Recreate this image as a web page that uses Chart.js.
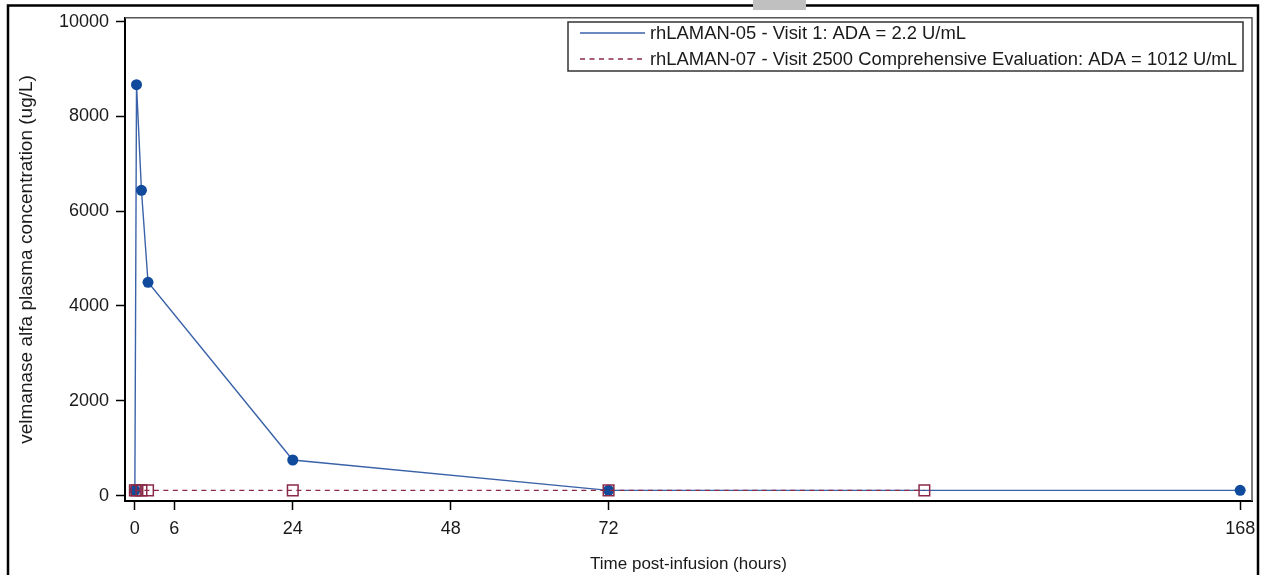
<!DOCTYPE html>
<html>
<head>
<meta charset="utf-8">
<script src="https://cdn.jsdelivr.net/npm/chart.js@4.4.1/dist/chart.umd.min.js"></script>
<style>
    html, body { margin: 0; padding: 0; background: #fff; }
    #wrap { position: relative; width: 1265px; height: 575px; }
</style>
</head>
<body>
<div id="wrap"><canvas id="grafico" width="1265" height="575"></canvas></div>
<script>
// rhLAMAN-05 - Visit 1
const horas05 = [0, 0.25, 1, 2, 24, 72, 168];
const conc05 = [110, 8670, 6440, 4500, 750, 110, 110];

// rhLAMAN-07 - Visit 2500
const horas07 = [0, 0.25, 1, 2, 24, 72, 120];
const conc07 = [110, 110, 110, 110, 110, 110, 110];

const ticksX = [0, 6, 24, 48, 72, 168];
const ticksY = [0, 2000, 4000, 6000, 8000, 10000];

const nomes = [
    'rhLAMAN-05 - Visit 1: ADA = 2.2 U/mL',
    'rhLAMAN-07 - Visit 2500 Comprehensive Evaluation: ADA = 1012 U/mL'
];

const azul = '#0f4a9c';
const azulLinha = '#3a62a8';
const vinho = '#8a2a48';
const fonte = '"Liberation Sans", Arial, sans-serif';

Chart.defaults.font.family = fonte;
Chart.defaults.color = '#1a1a1a';

// moldura externa, borda do gráfico e legenda
const moldura = {
    id: 'moldura',
    beforeDraw(chart) {
        const c = chart.ctx;
        c.save();
        c.strokeStyle = '#000';
        c.lineWidth = 2.5;
        c.beginPath();
        c.moveTo(8, 580);
        c.lineTo(8, 5.5);
        c.lineTo(1258, 5.5);
        c.lineTo(1258, 580);
        c.stroke();
        c.fillStyle = '#c0c0c0';
        c.fillRect(753, 0, 53, 10);
        c.restore();
    },
    afterDraw(chart) {
        const c = chart.ctx;
        const a = chart.chartArea;
        c.save();
        // topo e direita da área
        c.strokeStyle = '#555';
        c.lineWidth = 1.5;
        c.beginPath();
        c.moveTo(a.left, a.top);
        c.lineTo(a.right, a.top);
        c.lineTo(a.right, a.bottom);
        c.stroke();

        // legenda
        c.strokeStyle = '#333';
        c.lineWidth = 1.5;
        c.strokeRect(568, 22, 675, 49);
        c.lineWidth = 1.4;
        c.strokeStyle = azulLinha;
        c.beginPath();
        c.moveTo(580, 33);
        c.lineTo(645, 33);
        c.stroke();
        c.strokeStyle = vinho;
        c.setLineDash([5, 4.5]);
        c.beginPath();
        c.moveTo(580, 59);
        c.lineTo(645, 59);
        c.stroke();
        c.setLineDash([]);
        c.fillStyle = '#1a1a1a';
        c.font = '18.4px ' + fonte;
        c.textBaseline = 'middle';
        c.fillText(nomes[0], 650, 34);
        c.fillText(nomes[1], 650, 60);
        c.restore();
    }
};

const ctx = document.getElementById('grafico').getContext('2d');
const grafico = new Chart(ctx, {
    type: 'line',
    data: {
        datasets: [{
            label: nomes[0],
            data: horas05.map((h, i) => ({ x: h, y: conc05[i] })),
            borderColor: azulLinha,
            borderWidth: 1.4,
            pointStyle: 'circle',
            pointRadius: 5.5,
            pointBackgroundColor: azul,
            pointBorderColor: azul,
            pointBorderWidth: 0,
            order: 2
        }, {
            label: nomes[1],
            data: horas07.map((h, i) => ({ x: h, y: conc07[i] })),
            borderColor: vinho,
            borderWidth: 1.4,
            borderDash: [5, 4.5],
            pointStyle: 'rect',
            pointRadius: 7.5,
            pointBackgroundColor: 'rgba(0,0,0,0)',
            pointBorderColor: vinho,
            pointBorderWidth: 1.5,
            order: 1
        }]
    },
    options: {
        responsive: false,
        animation: false,
        devicePixelRatio: 1,
        layout: { padding: { left: 0, right: 13, top: 15, bottom: 0 } },
        plugins: {
            legend: { display: false },
            tooltip: { enabled: false }
        },
        scales: {
            x: {
                type: 'linear',
                min: -1.5,
                max: 169.8,
                afterBuildTicks: (s) => { s.ticks = ticksX.map(v => ({ value: v })); },
                afterFit: (s) => { s.height = 74; },
                grid: { drawOnChartArea: false, tickLength: 9, tickColor: '#000', tickWidth: 1.5 },
                border: { color: '#000', width: 2 },
                ticks: { font: { size: 18 }, padding: 8, maxRotation: 0, autoSkip: false, color: '#1a1a1a' },
                title: { display: true, text: 'Time post-infusion (hours)', font: { size: 17 }, padding: { top: 0, bottom: 0 }, color: '#1a1a1a' }
            },
            y: {
                min: -115,
                max: 10080,
                afterBuildTicks: (s) => { s.ticks = ticksY.map(v => ({ value: v })); },
                afterFit: (s) => { s.width = 125; },
                grid: { drawOnChartArea: false, tickLength: 9, tickColor: '#000', tickWidth: 1.5 },
                border: { color: '#000', width: 2 },
                ticks: { font: { size: 18 }, padding: 7, autoSkip: false, color: '#1a1a1a', callback: (v) => String(v) },
                title: { display: true, text: 'velmanase alfa plasma concentration (ug/L)', font: { size: 19 }, padding: { top: 15, bottom: 0 }, color: '#1a1a1a' }
            }
        }
    },
    plugins: [moldura]
});
</script>
</body>
</html>
